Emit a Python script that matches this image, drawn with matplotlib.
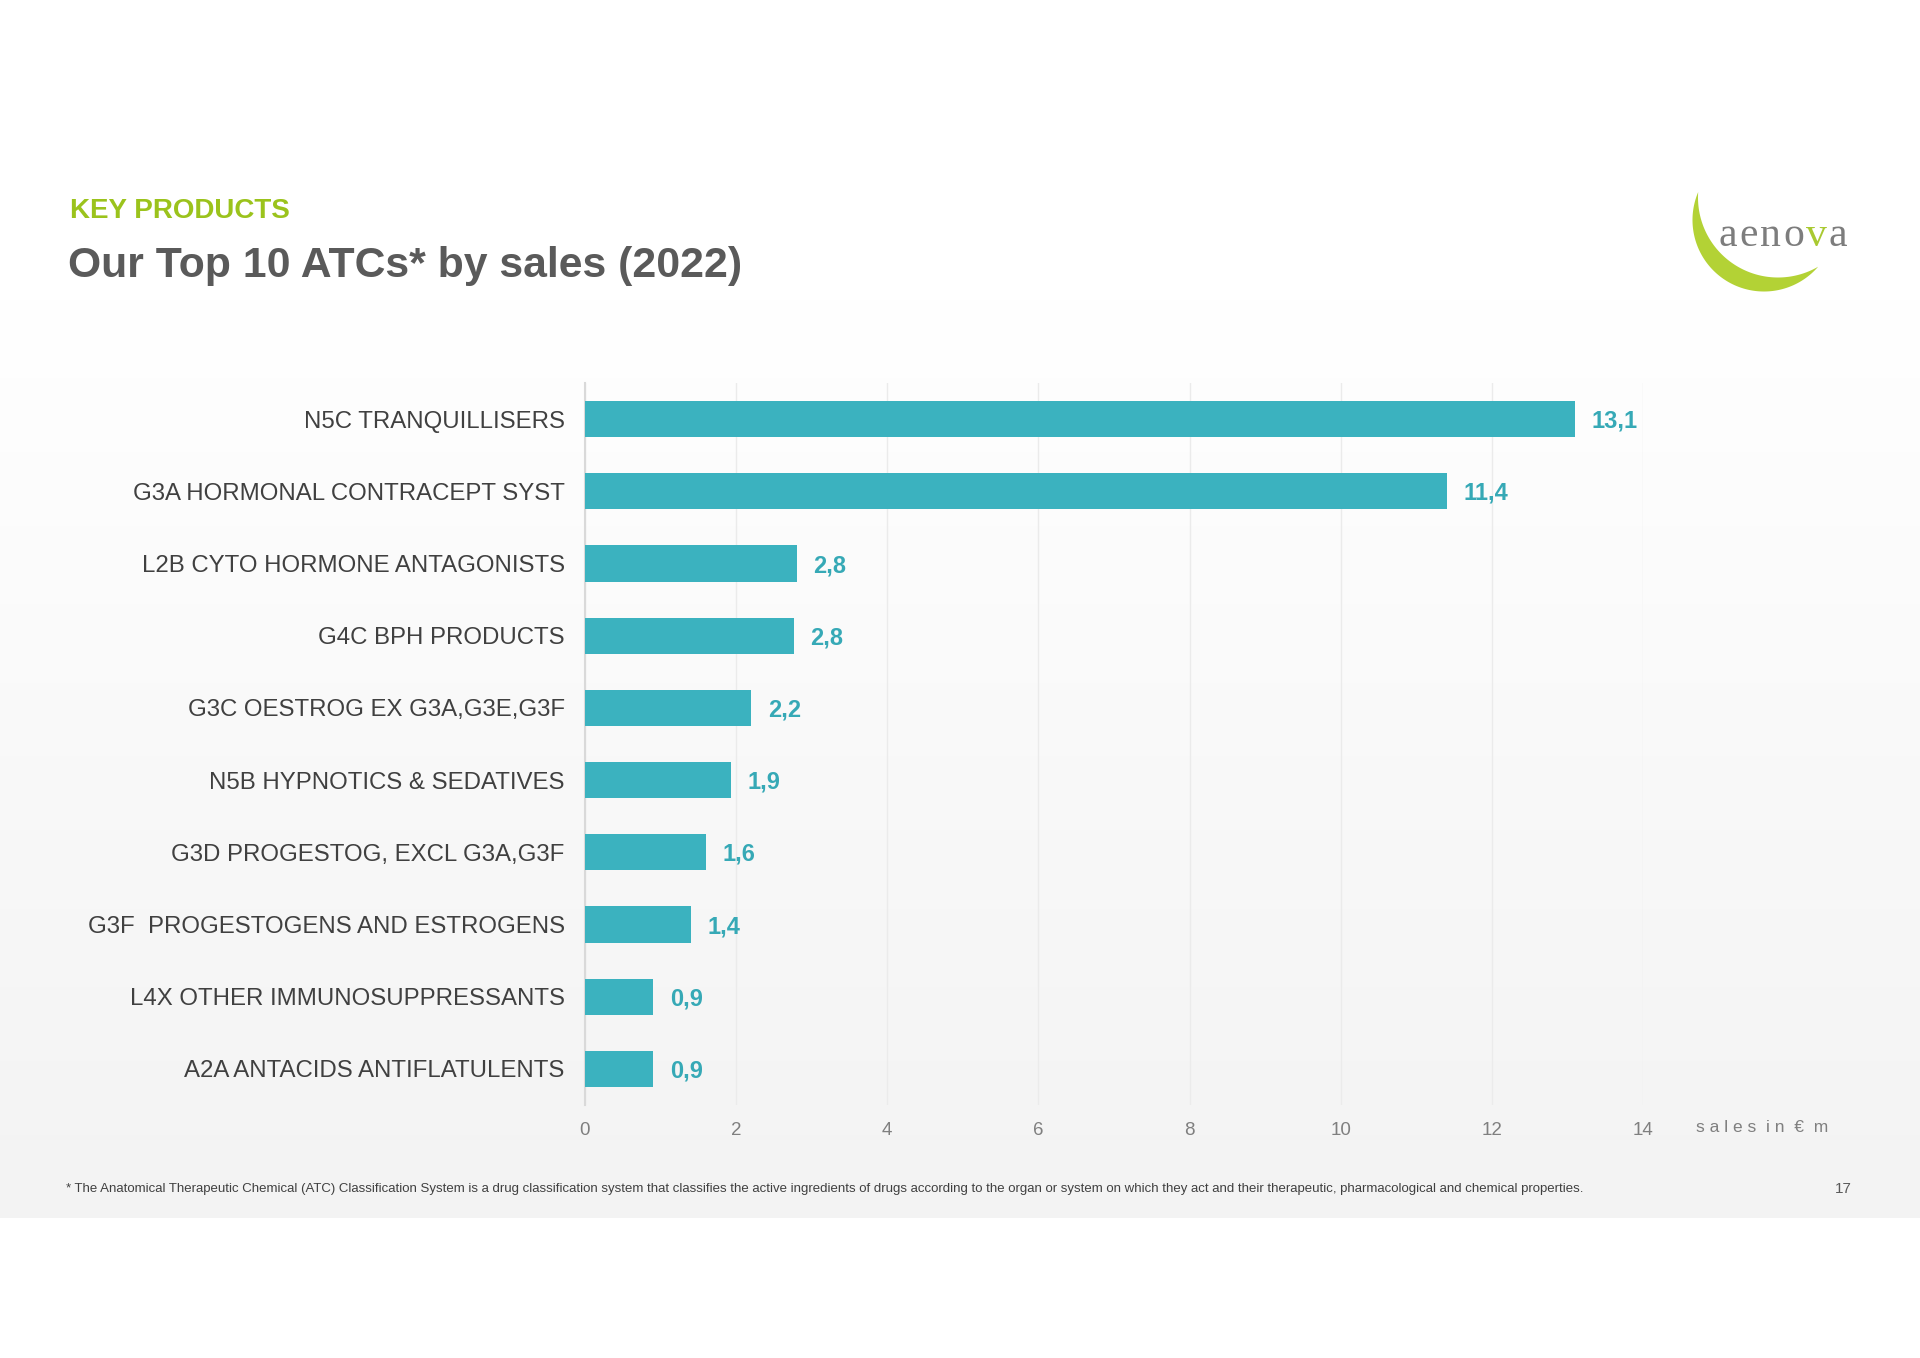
import numpy as np
import matplotlib.pyplot as plt
from matplotlib.colors import LinearSegmentedColormap

plt.rcParams['font.family'] = ['Liberation Sans', 'DejaVu Sans']

# data
categories = ['N5C TRANQUILLISERS', 'G3A HORMONAL CONTRACEPT SYST', 'L2B CYTO HORMONE ANTAGONISTS',
              'G4C BPH PRODUCTS', 'G3C OESTROG EX G3A,G3E,G3F', 'N5B HYPNOTICS & SEDATIVES',
              'G3D PROGESTOG, EXCL G3A,G3F', 'G3F  PROGESTOGENS AND ESTROGENS',
              'L4X OTHER IMMUNOSUPPRESSANTS', 'A2A ANTACIDS ANTIFLATULENTS']
sales = [13.1, 11.4, 2.8, 2.76, 2.2, 1.93, 1.6, 1.4, 0.9, 0.9]
xticks = [0, 2, 4, 6, 8, 10, 12, 14]

bar_color = '#3bb2bf'
label_color = '#36a9b6'
W, H = 1920, 1358

fig = plt.figure(figsize=(19.2, 13.58), dpi=100)

# background: grey gradient band (pixel coords)
bg = fig.add_axes([0, 0, 1, 1], zorder=-5)
bg.set_xlim(0, W)
bg.set_ylim(H, 0)
bg.axis('off')
grad = np.linspace(0, 1, 200).reshape(-1, 1)
cmap = LinearSegmentedColormap.from_list('g', ['#ffffff', '#f3f3f3'])
bg.imshow(grad, extent=(0, W, 1218, 295), cmap=cmap, aspect='auto', zorder=0)

# logo: crescent made of two circles
t = np.linspace(0, 2 * np.pi, 1440, endpoint=False)
c1, r1 = np.array([1764.0, 220.0]), 71.5
c2, r2 = np.array([1778.0, 197.5]), 80
mid = np.arctan2(*(c1 - c2)[::-1])
outer = np.c_[c1[0] + r1 * np.cos(t), c1[1] + r1 * np.sin(t)]
inner = np.c_[c2[0] + r2 * np.cos(t), c2[1] + r2 * np.sin(t)]
o = outer[np.hypot(*(outer - c2).T) >= r2]
i = inner[np.hypot(*(inner - c1).T) <= r1]
ang_o = (np.arctan2(o[:, 1] - c1[1], o[:, 0] - c1[0]) - mid + np.pi) % (2 * np.pi)
ang_i = (np.arctan2(i[:, 1] - c2[1], i[:, 0] - c2[0]) - mid + np.pi) % (2 * np.pi)
poly = np.vstack([o[np.argsort(ang_o)], i[np.argsort(ang_i)][::-1]])
bg.fill(poly[:, 0], poly[:, 1], color='#b3d235', lw=0, zorder=2)

renderer = fig.canvas.get_renderer()
xpos = 1719
for ch in 'aenova':
    col = '#a9c931' if ch == 'v' else '#7d7d7d'
    txt = bg.text(xpos, 246, ch, family='Liberation Serif', fontsize=30, color=col,
                  ha='left', va='baseline', zorder=3)
    bb = txt.get_window_extent(renderer)
    xpos += bb.width + 2

# headings
fig.text(70 / W, 1 - 210.5 / H, 'KEY PRODUCTS', fontsize=20, fontweight='bold', color='#9bc31c', va='center')
fig.text(68 / W, 1 - 266 / H, 'Our Top 10 ATCs* by sales (2022)', fontsize=30.8, fontweight='bold',
         color='#5a5a5a', va='center')

# chart
ax = fig.add_axes([585 / W, 1 - 1105 / H, 1058 / W, 722 / H])
ax.set_facecolor('none')
y = np.arange(len(categories))
ax.barh(y, sales, height=0.5, color=bar_color, zorder=3)
for yi, v in zip(y, sales):
    ax.annotate(f'{v:.1f}'.replace('.', ','), (v, yi), xytext=(12, -1.5), textcoords='offset points',
                va='center', ha='left', fontsize=17, fontweight='bold', color=label_color)
ax.set_ylim(len(categories) - 0.5, -0.5)
ax.set_xlim(0, 14)
ax.set_yticks(y)
ax.set_yticklabels(categories, fontsize=17.3, color='#404040')
ax.set_xticks(xticks)
ax.set_xticklabels([str(x) for x in xticks], fontsize=13.5, color='#7f7f7f')
ax.tick_params(axis='y', length=0, pad=14.5)
ax.tick_params(axis='x', length=0, pad=12)
ax.grid(axis='x', color='#ebebeb', lw=1, zorder=0)
for s in ['top', 'right', 'bottom']:
    ax.spines[s].set_visible(False)
ax.spines['left'].set_color('#d9d9d9')
ax.spines['left'].set_linewidth(1.5)

fig.text(1696 / W, 1 - 1128 / H, 's a l e s  i n  €  m', fontsize=12.5, color='#7f7f7f', va='center')

# footnote
fig.text(66 / W, 1 - 1189 / H,
         '* The Anatomical Therapeutic Chemical (ATC) Classification System is a drug classification system that '
         'classifies the active ingredients of drugs according to the organ or system on which they act and their '
         'therapeutic, pharmacological and chemical properties.', fontsize=9.5, color='#404040', va='center')
fig.text(1852 / W, 1 - 1189 / H, '17', fontsize=11, color='#595959', va='center', ha='right')

fig.savefig('out.png', dpi=100, facecolor='white')
